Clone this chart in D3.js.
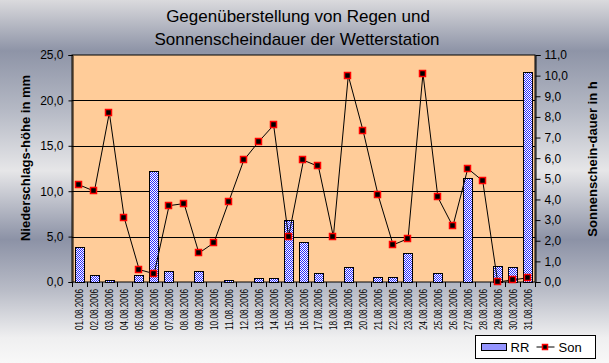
<!DOCTYPE html>
<html>
<head>
<meta charset="utf-8">
<script src="https://cdn.jsdelivr.net/npm/d3@7"></script>
<style>
  body { margin: 0; padding: 0; overflow: hidden; }
  text { font-family: "Liberation Sans", Arial, sans-serif; }
</style>
</head>
<body>
<div id="chart"></div>
<script>
// data
const days = ["01.08.2006", "02.08.2006", "03.08.2006", "04.08.2006", "05.08.2006", "06.08.2006",
  "07.08.2006", "08.08.2006", "09.08.2006", "10.08.2006", "11.08.2006", "12.08.2006",
  "13.08.2006", "14.08.2006", "15.08.2006", "16.08.2006", "17.08.2006", "18.08.2006",
  "19.08.2006", "20.08.2006", "21.08.2006", "22.08.2006", "23.08.2006", "24.08.2006",
  "25.08.2006", "26.08.2006", "27.08.2006", "28.08.2006", "29.08.2006", "30.08.2006", "31.08.2006"];
const rain = [3.9, 0.8, 0.2, 0, 0.8, 12.2, 1.2, 0, 1.2, 0, 0.2, 0, 0.4, 0.4, 6.8, 4.4,
  1.0, 0, 1.6, 0, 0.5, 0.5, 3.2, 0, 1.0, 0, 11.4, 0, 1.8, 1.7, 23.1];
const sun = [4.7, 4.4, 8.2, 3.1, 0.6, 0.4, 3.7, 3.8, 1.4, 1.9, 3.9, 5.9, 6.8, 7.6, 2.2, 5.9,
  5.6, 2.2, 10.0, 7.3, 4.2, 1.8, 2.1, 10.1, 4.1, 2.7, 5.5, 4.9, 0.0, 0.1, 0.2];
const leftTicks = [0, 5, 10, 15, 20, 25];
const rightTicks = [0, 1, 2, 3, 4, 5, 6, 7, 8, 9, 10, 11];

const width = 609, height = 363;
const m = { left: 72, right: 535, top: 55, bottom: 282 };
const fmt = v => v.toFixed(1).replace(".", ",");

const svg = d3.select("#chart").append("svg")
  .attr("width", width)
  .attr("height", height);

const defs = svg.append("defs");
const bg = defs.append("linearGradient")
  .attr("id", "bg").attr("x1", 0).attr("y1", 0).attr("x2", 0).attr("y2", 1);
[[0, "#dadadd"], [0.14, "#8e94a7"], [0.30, "#b4b8c4"], [0.47, "#e6e6e8"],
 [0.66, "#8c92a6"], [0.80, "#b9bcc7"], [0.93, "#efeff0"], [1, "#f8f8f8"]]
  .forEach(s => bg.append("stop").attr("offset", s[0]).attr("stop-color", s[1]));

const pat = defs.append("pattern")
  .attr("id", "checker").attr("width", 2).attr("height", 2)
  .attr("patternUnits", "userSpaceOnUse");
pat.append("rect").attr("width", 2).attr("height", 2).attr("fill", "#ffffff");
pat.append("rect").attr("width", 1).attr("height", 1).attr("fill", "#2b2bff");
pat.append("rect").attr("x", 1).attr("y", 1).attr("width", 1).attr("height", 1).attr("fill", "#2b2bff");

svg.append("rect").attr("width", width).attr("height", height).attr("fill", "url(#bg)");

// scales
const x = d3.scaleBand().domain(days).range([m.left, m.right]).paddingInner(0.37).paddingOuter(0.18);
const xs = d3.scaleBand().domain(days).range([m.left, m.right]);
const yL = d3.scaleLinear().domain([0, 25]).range([m.bottom, m.top]);
const yR = d3.scaleLinear().domain([0, 11]).range([m.bottom, m.top]);

// plot area
svg.append("rect")
  .attr("x", m.left).attr("y", m.top)
  .attr("width", m.right - m.left).attr("height", m.bottom - m.top)
  .attr("fill", "#ffcc99").attr("stroke", "#000").attr("stroke-width", 1);

svg.append("g").selectAll("line")
  .data(leftTicks.slice(1, -1))
  .enter().append("line")
  .attr("x1", m.left).attr("x2", m.right)
  .attr("y1", d => Math.round(yL(d)) + 0.5).attr("y2", d => Math.round(yL(d)) + 0.5)
  .attr("stroke", "#000");

// bars
const rainData = days.map((d, i) => ({ day: d, value: rain[i] })).filter(d => d.value > 0);
svg.append("g").selectAll("rect")
  .data(rainData)
  .enter().append("rect")
  .attr("x", d => Math.round(x(d.day)) + 0.5)
  .attr("y", d => Math.round(yL(d.value)) + 0.5)
  .attr("width", Math.round(x.bandwidth()))
  .attr("height", d => Math.round(yL(0)) - Math.round(yL(d.value)))
  .attr("fill", "url(#checker)")
  .attr("stroke", "#000");

// sunshine line
const line = d3.line()
  .x((d, i) => xs(days[i]) + xs.bandwidth() / 2)
  .y(d => yR(d));
svg.append("path")
  .datum(sun)
  .attr("d", line)
  .attr("fill", "none")
  .attr("stroke", "#000")
  .attr("stroke-width", 1);

svg.append("g").selectAll("rect")
  .data(sun)
  .enter().append("rect")
  .attr("x", (d, i) => Math.round(xs(days[i]) + xs.bandwidth() / 2) - 3.5)
  .attr("y", d => Math.round(yR(d)) - 3.5)
  .attr("width", 6).attr("height", 6)
  .attr("fill", "#000").attr("stroke", "#ff0000").attr("stroke-width", 1.5);

// axes
const axL = d3.axisLeft(yL).tickValues(leftTicks).tickSize(4).tickPadding(5).tickFormat(fmt);
const gL = svg.append("g").attr("transform", `translate(${m.left + 0.5},0)`).call(axL);
const axR = d3.axisRight(yR).tickValues(rightTicks).tickSize(5).tickPadding(4).tickFormat(fmt);
const gR = svg.append("g").attr("transform", `translate(${m.right + 0.5},0)`).call(axR);
[gL, gR].forEach(g => {
  g.select(".domain").attr("stroke", "#000");
  g.selectAll(".tick line").attr("stroke", "#000");
  g.selectAll("text").attr("font-size", 12).attr("fill", "#000")
    .style("font-family", "'Liberation Sans', Arial, sans-serif");
});

// x ticks at category boundaries
const bounds = days.map(d => xs(d)).concat([m.right]);
svg.append("g").selectAll("line")
  .data(bounds)
  .enter().append("line")
  .attr("x1", d => Math.round(d) + 0.5).attr("x2", d => Math.round(d) + 0.5)
  .attr("y1", m.bottom).attr("y2", m.bottom + 5)
  .attr("stroke", "#000");

svg.append("g").selectAll("text")
  .data(days)
  .enter().append("text")
  .attr("transform", d => `translate(${xs(d) + xs.bandwidth() / 2 + 4},${m.bottom + 7}) rotate(-90)`)
  .attr("text-anchor", "end")
  .attr("font-size", 11)
  .attr("textLength", 41)
  .attr("lengthAdjust", "spacingAndGlyphs")
  .text(d => d);

// titles
svg.append("text")
  .attr("x", 298).attr("y", 22)
  .attr("text-anchor", "middle").attr("font-size", 17)
  .text("Gegenüberstellung von Regen und");
svg.append("text")
  .attr("x", 297).attr("y", 45)
  .attr("text-anchor", "middle").attr("font-size", 17)
  .text("Sonnenscheindauer der Wetterstation");

svg.append("text")
  .attr("transform", "translate(30,158) rotate(-90)")
  .attr("text-anchor", "middle").attr("font-size", 13).attr("font-weight", "bold")
  .text("Niederschlags-höhe in mm");
svg.append("text")
  .attr("transform", "translate(597,159) rotate(-90)")
  .attr("text-anchor", "middle").attr("font-size", 13).attr("font-weight", "bold")
  .text("Sonnenschein-dauer in h");

// legend
const lg = svg.append("g").attr("transform", "translate(475.5,335.5)");
lg.append("rect").attr("width", 120).attr("height", 23).attr("fill", "#fff").attr("stroke", "#000");
lg.append("rect").attr("x", 6).attr("y", 8).attr("width", 25).attr("height", 7)
  .attr("fill", "url(#checker)").attr("stroke", "#000");
lg.append("text").attr("x", 35).attr("y", 16).attr("font-size", 13).text("RR");
lg.append("line").attr("x1", 61).attr("x2", 79).attr("y1", 11.5).attr("y2", 11.5).attr("stroke", "#000");
lg.append("rect").attr("x", 67).attr("y", 9).attr("width", 5).attr("height", 5)
  .attr("fill", "#000").attr("stroke", "#ff0000").attr("stroke-width", 1.5);
lg.append("text").attr("x", 83).attr("y", 16).attr("font-size", 13).text("Son");
</script>
</body>
</html>
